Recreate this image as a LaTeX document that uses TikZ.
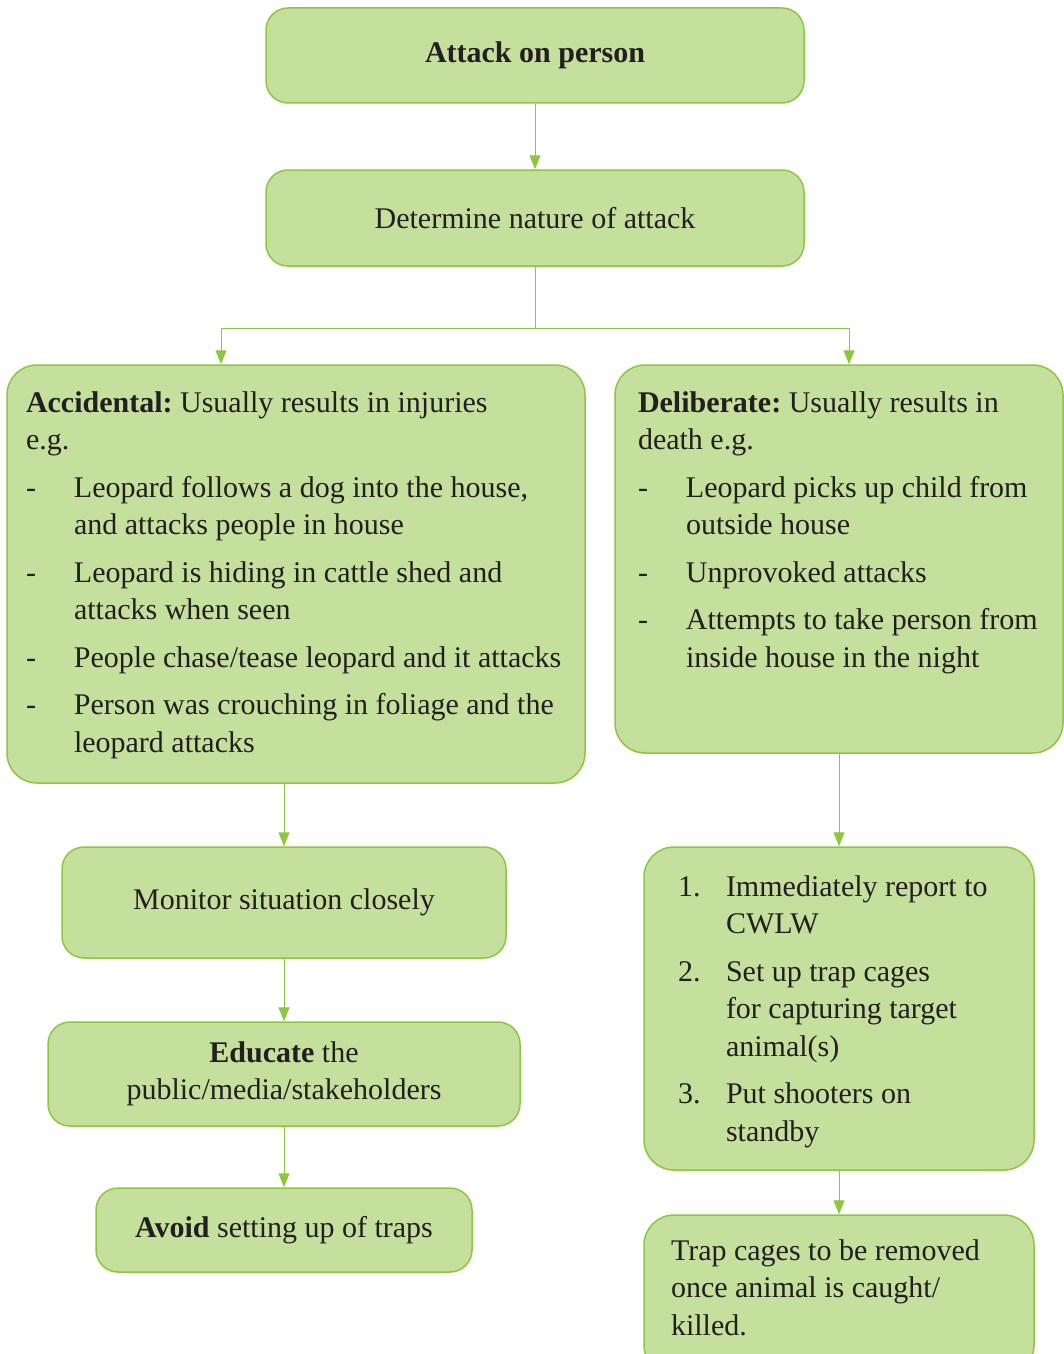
\documentclass[tikz,border=0pt]{standalone}
\usepackage{fontspec}
\setmainfont{Liberation Serif}
\usepackage{tikz}
\usetikzlibrary{arrows.meta}
\definecolor{leafgreen}{HTML}{C5DF9D}
\definecolor{edgegreen}{HTML}{8DC63F}
\definecolor{inkdark}{HTML}{231F20}
\frenchspacing
\tikzstyle{flowbox} = [draw=edgegreen, fill=leafgreen, line width=0.75pt, rounded corners=11pt, inner sep=0pt, align=center, text=inkdark, font=\fontsize{15}{18.75}\selectfont]
\tikzstyle{flowline} = [draw=edgegreen, line width=0.5pt, -{Triangle[length=7pt,width=5.5pt]}]
\newcommand{\itemrows}[3]{\parbox[c][#2][t]{#1}{\begin{tabular}[t]{@{}p{24pt}@{}l@{}}#3\end{tabular}}}

\begin{document}
\begin{tikzpicture}[x=0.5pt,y=-0.5pt]
			\useasboundingbox (0,0) rectangle (1064,1354);
			\node[flowbox, minimum width=269pt, minimum height=47.5pt] (attack) at (535,55.5) {\textbf{Attack on person}};
			\node[flowbox, minimum width=269pt, minimum height=48pt] (nature) at (535,218) {Determine nature of attack};
			\node[flowbox, rounded corners=15pt, minimum width=289pt, minimum height=209pt] (acc) at (296,574) {\itemrows{270pt}{188pt}{%
				\multicolumn{2}{@{}l@{}}{\textbf{Accidental:} Usually results in injuries}\\
				\multicolumn{2}{@{}l@{}}{e.g.}\\[5pt]
				- & Leopard follows a dog into the house,\\
				& and attacks people in house\\[5pt]
				- & Leopard is hiding in cattle shed and\\
				& attacks when seen\\[5pt]
				- & People chase/tease leopard and it attacks\\[5pt]
				- & Person was crouching in foliage and the\\
				& leopard attacks}};
			\node[flowbox, rounded corners=15pt, minimum width=224pt, minimum height=194pt] (del) at (839,559) {\itemrows{201pt}{173pt}{%
				\multicolumn{2}{@{}l@{}}{\textbf{Deliberate:} Usually results in}\\
				\multicolumn{2}{@{}l@{}}{death e.g.}\\[5pt]
				- & Leopard picks up child from\\
				& outside house\\[5pt]
				- & Unprovoked attacks\\[5pt]
				- & Attempts to take person from\\
				& inside house in the night}};
			\node[flowbox, minimum width=222pt, minimum height=55.5pt] (mon) at (284,902.5) {Monitor situation closely};
			\node[flowbox, minimum width=236pt, minimum height=52pt] (edu) at (284,1074) {\textbf{Educate} the\\public/media/stakeholders};
			\node[flowbox, minimum width=188pt, minimum height=42pt] (avoid) at (284,1230) {\textbf{Avoid} setting up of traps};
			\node[flowbox, rounded corners=15pt, minimum width=195pt, minimum height=161.5pt] (act) at (839,1008.5) {\itemrows{161pt}{138.5pt}{%
				1. & Immediately report to\\
				& CWLW\\[5pt]
				2. & Set up trap cages\\
				& for capturing target\\
				& animal(s)\\[5pt]
				3. & Put shooters on\\
				& standby}};
			\node[flowbox, rounded corners=15pt, minimum width=195pt, minimum height=80pt] (trap) at (839,1295) {\parbox[c][61pt][t]{168pt}{\begin{tabular}[t]{@{}l@{}}Trap cages to be removed\\once animal is caught/\\killed.\end{tabular}}};
			\coordinate (split) at (535,328);
			\draw[flowline] (attack) -- (nature);
			\draw[draw=edgegreen, line width=0.5pt] (nature) -- (split);
			\draw[flowline] (split) -| ([xshift=-37.5pt]acc.north);
			\draw[flowline] (split) -| ([xshift=5pt]del.north);
			\draw[flowline] (acc.south -| mon.north) -- (mon);
			\draw[flowline] (mon) -- (edu);
			\draw[flowline] (edu) -- (avoid);
			\draw[flowline] (del) -- (act);
			\draw[flowline] (act) -- (trap);
		\end{tikzpicture}
\end{document}
